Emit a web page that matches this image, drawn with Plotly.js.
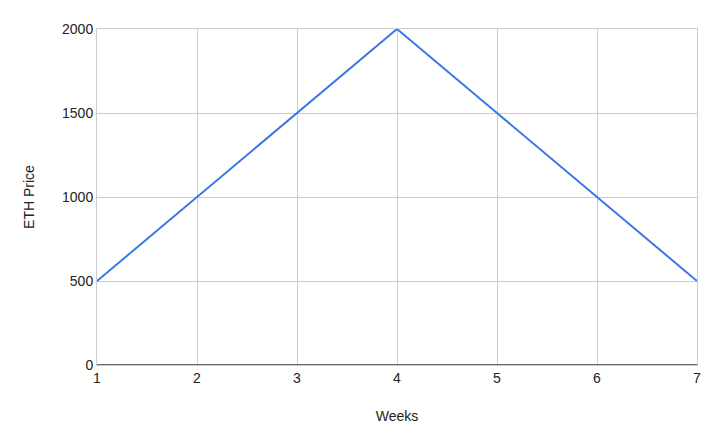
<!DOCTYPE html>
<html><head><meta charset="utf-8">
<script src="https://cdn.plot.ly/plotly-3.0.1.min.js"></script>
<style>html,body{margin:0;padding:0;background:#fff}#chart{width:720px;height:445px}</style>
</head><body><div id="chart"></div>
<script>
const weeks = [1, 2, 3, 4, 5, 6, 7];
const ethPrice = [500, 1000, 1500, 2000, 1500, 1000, 500];
const yTicks = [0, 500, 1000, 1500, 2000];

Plotly.newPlot('chart', [{
  x: weeks, y: ethPrice, type: 'scatter', mode: 'lines',
  line: {color: '#3b78e7', width: 2}, hoverinfo: 'skip'
}], {
  width: 720, height: 445,
  margin: {l: 97, r: 23, t: 29, b: 80},
  paper_bgcolor: '#fff', plot_bgcolor: '#fff',
  font: {family: 'Liberation Sans, Arial, sans-serif', size: 14, color: '#222'},
  showlegend: false,
  xaxis: {
    range: [1, 7], tickvals: weeks, ticks: '', showgrid: true, gridcolor: '#cccccc',
    zeroline: false, showline: true, linecolor: '#cccccc', mirror: true,
    tickfont: {size: 14}, title: {text: 'Weeks', standoff: 26, font: {size: 14}}
  },
  yaxis: {
    range: [0, 2000], tickvals: yTicks, ticks: '', showgrid: true, gridcolor: '#cccccc',
    zeroline: false, showline: true, linecolor: '#cccccc', mirror: true,
    tickfont: {size: 14}, title: {text: 'ETH Price', standoff: 24, font: {size: 14}}
  },
  shapes: [{type: 'line', xref: 'paper', yref: 'y', x0: 0, x1: 1, y0: 0, y1: 0,
    line: {color: '#333', width: 1.5}}]
}, {staticPlot: true});
</script></body></html>
